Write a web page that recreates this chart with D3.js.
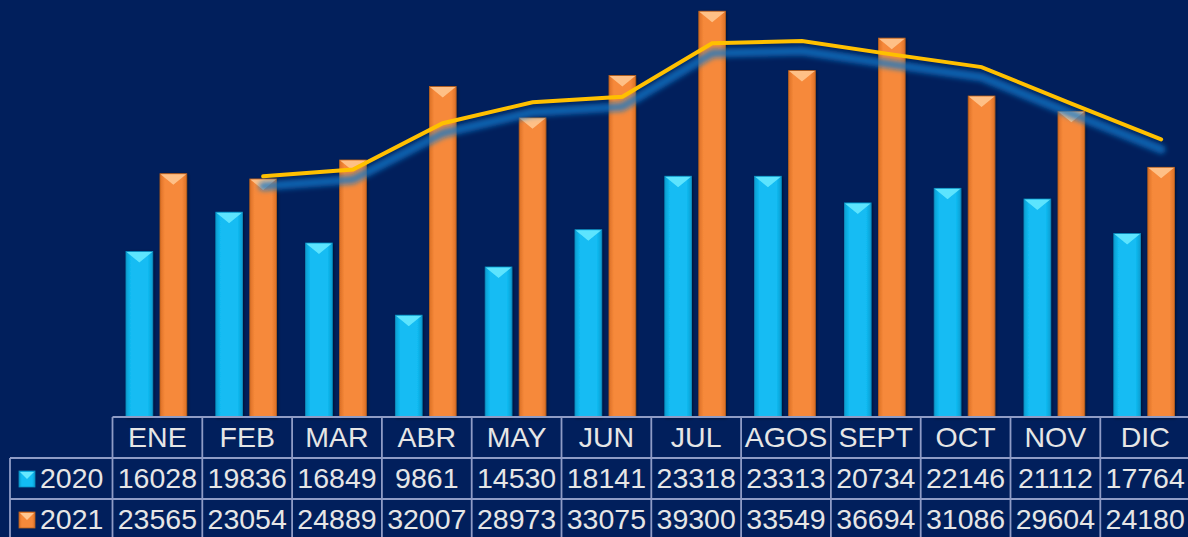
<!DOCTYPE html>
<html>
<head>
<meta charset="utf-8">
<script src="https://cdn.jsdelivr.net/npm/d3@7"></script>
<style>
  html, body { margin: 0; padding: 0; background: #011f5c; }
  svg { display: block; }
</style>
</head>
<body>
<svg id="chart"></svg>
<script>
// Chart data
const months = ['ENE', 'FEB', 'MAR', 'ABR', 'MAY', 'JUN', 'JUL', 'AGOS', 'SEPT', 'OCT', 'NOV', 'DIC'];
const years = ['2020', '2021'];
const values2020 = [16028, 19836, 16849, 9861, 14530, 18141, 23318, 23313, 20734, 22146, 21112, 17764];
const values2021 = [23565, 23054, 24889, 32007, 28973, 33075, 39300, 33549, 36694, 31086, 29604, 24180];
// Trend line (starts at FEB)
const trendMonths = ['FEB', 'MAR', 'ABR', 'MAY', 'JUN', 'JUL', 'AGOS', 'SEPT', 'OCT', 'NOV', 'DIC'];
const trend2021 = [23310, 23970, 28450, 30490, 31020, 36190, 36420, 35120, 33890, 30350, 26890];

const width = 1188;
const height = 537;
const tableLeft = 112.5;
const colWidth = 89.8;
const baseY = 417;
const rowH = 41;

const colors = {
    '2020': { body: '#12bcf3', light: '#66e8ff', edge: '#0a8fc0', dark: '#089dd0' },
    '2021': { body: '#f6893a', light: '#ffc690', edge: '#b9621f', dark: '#dc7026' }
};

const svg = d3.select('#chart')
    .attr('width', width)
    .attr('height', height);

const defs = svg.append('defs');

// Horizontal shading for the bars
years.forEach(yr => {
    const g = defs.append('linearGradient')
        .attr('id', 'grad' + yr)
        .attr('x1', '0').attr('x2', '1').attr('y1', '0').attr('y2', '0');
    g.append('stop').attr('offset', '0%').attr('stop-color', colors[yr].dark);
    g.append('stop').attr('offset', '18%').attr('stop-color', colors[yr].body);
    g.append('stop').attr('offset', '82%').attr('stop-color', colors[yr].body);
    g.append('stop').attr('offset', '100%').attr('stop-color', colors[yr].dark);
});

// Soft shadow for bars
const shadow = defs.append('filter').attr('id', 'barShadow')
    .attr('x', '-30%').attr('y', '-10%').attr('width', '160%').attr('height', '130%');
shadow.append('feDropShadow')
    .attr('dx', 1).attr('dy', 1).attr('stdDeviation', 1.5)
    .attr('flood-color', '#000').attr('flood-opacity', 0.5);

// Blur for the line glow
const glow = defs.append('filter').attr('id', 'glow')
    .attr('x', '-10%').attr('y', '-50%').attr('width', '120%').attr('height', '200%');
glow.append('feGaussianBlur').attr('stdDeviation', 2.5);

// Background
svg.append('rect')
    .attr('width', width)
    .attr('height', height)
    .attr('fill', '#011f5c');

// Scales
const x0 = d3.scaleBand()
    .domain(months)
    .range([tableLeft, tableLeft + colWidth * months.length]);

const x1 = d3.scaleBand()
    .domain(years)
    .range([13.5, 74.2])
    .paddingInner(0.215);

const y = d3.scaleLinear()
    .domain([0, 40000])
    .range([baseY, 4]);

const rows = months.map((m, i) => ({ month: m, '2020': values2020[i], '2021': values2021[i] }));

// Bars
const groups = svg.append('g')
    .selectAll('g')
    .data(rows)
    .enter()
    .append('g')
    .attr('transform', d => `translate(${x0(d.month)},0)`);

years.forEach(yr => {
    const bw = x1.bandwidth();
    const bar = groups.append('g').attr('filter', 'url(#barShadow)');

    bar.append('rect')
        .attr('x', x1(yr))
        .attr('y', d => y(d[yr]))
        .attr('width', bw)
        .attr('height', d => baseY - y(d[yr]))
        .attr('fill', `url(#grad${yr})`)
        .attr('stroke', colors[yr].edge)
        .attr('stroke-width', 0.8);

    // bevel on top
    bar.append('path')
        .attr('d', d => {
            const bx = x1(yr), by = y(d[yr]);
            return `M${bx + 0.5},${by + 0.5} L${bx + bw - 0.5},${by + 0.5} L${bx + bw / 2},${by + 11} Z`;
        })
        .attr('fill', colors[yr].light)
        .attr('opacity', 0.9);
});

// Trend line
const line = d3.line()
    .x((d, i) => x0(trendMonths[i]) + x1('2021') + x1.bandwidth() / 2)
    .y(d => y(d));

svg.append('path')
    .datum(trend2021)
    .attr('fill', 'none')
    .attr('stroke', '#1477c8')
    .attr('stroke-opacity', 0.75)
    .attr('stroke-width', 9)
    .attr('stroke-linejoin', 'round')
    .attr('stroke-linecap', 'round')
    .attr('filter', 'url(#glow)')
    .attr('transform', 'translate(0,10)')
    .attr('d', line);

svg.append('path')
    .datum(trend2021)
    .attr('fill', 'none')
    .attr('stroke', '#ffc000')
    .attr('stroke-width', 4)
    .attr('stroke-linecap', 'round')
    .attr('d', line);

// Data table
const gridColor = '#8f9cc6';
const table = svg.append('g');
const tableRight = tableLeft + colWidth * months.length;

// horizontal lines
table.append('line')
    .attr('x1', tableLeft).attr('x2', tableRight)
    .attr('y1', baseY).attr('y2', baseY);
[baseY + rowH, baseY + rowH * 2].forEach(yy => {
    table.append('line')
        .attr('x1', 10).attr('x2', tableRight)
        .attr('y1', yy).attr('y2', yy);
});
// vertical lines
months.forEach(m => {
    table.append('line')
        .attr('x1', x0(m)).attr('x2', x0(m))
        .attr('y1', baseY).attr('y2', height);
});
table.append('line')
    .attr('x1', 10).attr('x2', 10)
    .attr('y1', baseY + rowH).attr('y2', height);
table.selectAll('line')
    .attr('stroke', gridColor)
    .attr('stroke-width', 1.8);

const textStyle = sel => sel
    .attr('fill', '#e6e6e6')
    .attr('font-family', 'Liberation Sans, Arial, sans-serif')
    .attr('font-size', '28.5px');

// month headers
table.selectAll('.month')
    .data(months)
    .enter()
    .append('text')
    .attr('class', 'month')
    .attr('x', d => x0(d) + colWidth / 2)
    .attr('y', baseY + 30)
    .attr('text-anchor', 'middle')
    .text(d => d)
    .call(textStyle);

// value rows
const seriesValues = { '2020': values2020, '2021': values2021 };
years.forEach((yr, r) => {
    const rowY = baseY + rowH * (r + 1);
    table.selectAll('.val' + yr)
        .data(seriesValues[yr])
        .enter()
        .append('text')
        .attr('x', (d, i) => x0(months[i]) + colWidth / 2)
        .attr('y', rowY + 30)
        .attr('text-anchor', 'middle')
        .text(d => d)
        .call(textStyle);

    // legend key
    const key = table.append('g').attr('transform', `translate(19,${rowY + 13})`);
    key.append('rect')
        .attr('width', 16).attr('height', 16)
        .attr('fill', `url(#grad${yr})`)
        .attr('stroke', colors[yr].edge)
        .attr('stroke-width', 0.8);
    key.append('path')
        .attr('d', 'M1,1 L15,1 L8,8 Z')
        .attr('fill', colors[yr].light);

    table.append('text')
        .attr('x', 40)
        .attr('y', rowY + 30)
        .text(yr)
        .call(textStyle);
});
</script>
</body>
</html>
